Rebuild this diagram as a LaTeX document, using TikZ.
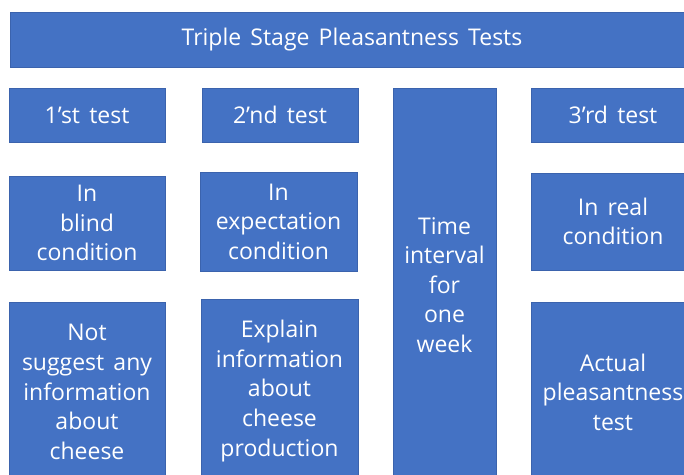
\documentclass[tikz,border=0pt]{standalone}
\usepackage{fontspec}
\setmainfont{Open Sans}
\definecolor{boxfill}{HTML}{4472C4}
\definecolor{boxline}{HTML}{3B63AD}
\newcommand{\boxtextfont}{\fontsize{23}{29.6}\selectfont\spaceskip=0.4em plus 0.1em\relax}
\begin{document}
\begin{tikzpicture}[x=1pt,y=1pt,
  box/.style={draw=boxline, fill=boxfill, line width=0.6pt, text=white,
    inner sep=0pt, align=center, font=\boxtextfont},
  ]
  \useasboundingbox (0,0) rectangle (684,-474);
  \clip (0,0) rectangle (684,-474);

  % title banner
  \node[box, minimum width=684pt, minimum height=55pt] (title) at (352,-39.5)
    {Triple Stage Pleasantness Tests};

  % stage headers
  \node[box, minimum width=156pt, minimum height=54pt] (t1) at (87,-115) {1’st test};
  \node[box, minimum width=156pt, minimum height=54pt] (t2) at (280,-115) {2’nd test};
  \node[box, minimum width=164pt, minimum height=54pt] (t3) at (613,-115) {3’rd test};

  % waiting period between second and third test
  \node[box, minimum width=103pt, minimum height=394pt] (gap) at (444.5,-285)
    {Time\\interval\\for\\one\\week};

  % conditions
  \node[box, minimum width=156pt, minimum height=94pt] (c1) at (87,-223)
    {In\\blind\\condition};
  \node[box, minimum width=157pt, minimum height=99pt] (c2) at (278.5,-221.5)
    {In\\expectation\\condition};
  \node[box, minimum width=164pt, minimum height=97pt] (c3) at (613,-221.5)
    {In real\\condition};

  % procedures
  \node[box, minimum width=156pt, minimum height=180pt] (d1) at (87,-392)
    {Not\\suggest any\\information\\about\\cheese};
  \node[box, minimum width=157pt, minimum height=184pt] (d2) at (279.5,-391)
    {Explain\\information\\about\\cheese\\production};
  \node[box, minimum width=164pt, minimum height=180pt] (d3) at (613,-392)
    {Actual\\pleasantness\\test};
\end{tikzpicture}
\end{document}
